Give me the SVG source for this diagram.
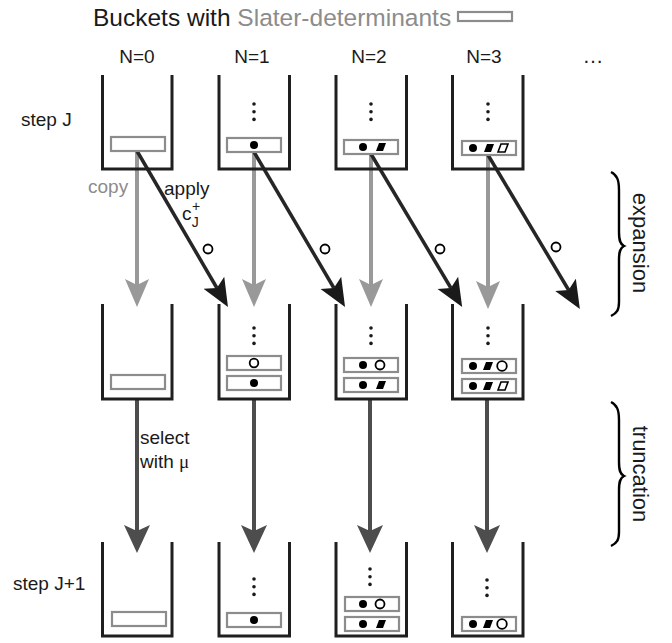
<svg xmlns="http://www.w3.org/2000/svg" width="672" height="643" viewBox="0 0 672 643">
<style>
text{font-family:"Liberation Sans",Arial,sans-serif;fill:#1a1a1a}
.lbl{font-size:19px}
.gt{fill:#8c8c8c}
.bucket{fill:none;stroke:#1f1f1f;stroke-width:3}
.sd{fill:#fff;stroke:#8c8c8c;stroke-width:2.2}
.dot{fill:#1a1a1a}
.fc{fill:#000}
.oc{fill:#fff;stroke:#000;stroke-width:1.8}
.fp{fill:#000}
.op{fill:#fff;stroke:#000;stroke-width:1.6}
.copy{stroke:#999;stroke-width:4;fill:none}
.apply{stroke:#262626;stroke-width:3.5;fill:none}
.sel{stroke:#4d4d4d;stroke-width:4;fill:none}
.brace{fill:none;stroke:#000;stroke-width:2.4}
</style>
<defs>
<marker id="ag" markerUnits="userSpaceOnUse" markerWidth="30" markerHeight="26" refX="6" refY="12" orient="auto"><path d="M0,0 L28,12 L0,24 L6,12 Z" fill="#999"/></marker>
<marker id="ad" markerUnits="userSpaceOnUse" markerWidth="30" markerHeight="26" refX="6" refY="12" orient="auto"><path d="M0,0 L28,12 L0,24 L6,12 Z" fill="#1a1a1a"/></marker>
<marker id="as" markerUnits="userSpaceOnUse" markerWidth="30" markerHeight="28" refX="6" refY="13" orient="auto"><path d="M0,0 L28,13 L0,26 L6,13 Z" fill="#4d4d4d"/></marker>
<g id="vd"><circle cx="0" cy="0" r="1.8" class="dot"/><circle cx="0" cy="7.7" r="1.8" class="dot"/><circle cx="0" cy="15.4" r="1.8" class="dot"/></g>
<path id="fpara" d="M-5,4 L-2,-4 L5,-4 L2,4 Z" class="fp"/>
<path id="opara" d="M-5,4 L-2,-4 L5,-4 L2,4 Z" class="op"/>
</defs>

<g id="title">
<text x="93" y="26" style="font-size:24.5px">Buckets with <tspan class="gt">Slater-determinants</tspan></text>
<rect x="458" y="12" width="54" height="9" class="sd"/>
</g>

<g id="headers" class="lbl">
<text x="137" y="63" text-anchor="middle">N=0</text>
<text x="252" y="63" text-anchor="middle">N=1</text>
<text x="369" y="63" text-anchor="middle">N=2</text>
<text x="484" y="63" text-anchor="middle">N=3</text>
<text x="593" y="63" text-anchor="middle" style="font-size:21px">…</text>
<text x="21" y="126">step J</text>
<text x="13" y="590">step J+1</text>
</g>

<g id="connectors">
<line x1="137" y1="152" x2="137" y2="285" class="copy" marker-end="url(#ag)"/>
<line x1="254" y1="153" x2="254" y2="285" class="copy" marker-end="url(#ag)"/>
<line x1="371" y1="155" x2="371" y2="285" class="copy" marker-end="url(#ag)"/>
<line x1="488" y1="156" x2="488" y2="287" class="copy" marker-end="url(#ag)"/>
<line x1="137" y1="151" x2="216.9" y2="288" class="apply" marker-end="url(#ad)"/>
<line x1="254" y1="152" x2="333.9" y2="288" class="apply" marker-end="url(#ad)"/>
<line x1="371" y1="154" x2="450.9" y2="288" class="apply" marker-end="url(#ad)"/>
<line x1="488" y1="155" x2="568.6" y2="290" class="apply" marker-end="url(#ad)"/>
<line x1="137" y1="399" x2="137" y2="531" class="sel" marker-end="url(#as)"/>
<line x1="254" y1="399" x2="254" y2="531" class="sel" marker-end="url(#as)"/>
<line x1="370" y1="399" x2="370" y2="531" class="sel" marker-end="url(#as)"/>
<line x1="487" y1="399" x2="487" y2="531" class="sel" marker-end="url(#as)"/>
<circle cx="208" cy="249" r="4.5" class="oc"/>
<circle cx="325" cy="249" r="4.5" class="oc"/>
<circle cx="440" cy="249" r="4.5" class="oc"/>
<circle cx="556" cy="247" r="4.5" class="oc"/>
<text x="88" y="193" class="lbl gt">copy</text>
<text x="164" y="195" class="lbl">apply</text>
<text x="182" y="220" class="lbl">c<tspan dx="0.5" dy="-9" style="font-size:14px">+</tspan><tspan dx="-8.5" dy="16" style="font-size:14px">J</tspan></text>
<text x="140" y="444" class="lbl">select</text>
<text x="140" y="468" class="lbl">with <tspan style="font-family:'Liberation Serif',serif">μ</tspan></text>
</g>

<g id="b00"><path d="M102.5,75 V169 H172 V75" class="bucket"/><rect x="111" y="137" width="54" height="14" class="sd"/></g>
<g id="b01"><path d="M219,75 V169 H289.5 V75" class="bucket"/><use href="#vd" x="254" y="104"/><rect x="227" y="138" width="54" height="14" class="sd"/><circle cx="254" cy="145" r="4" class="fc"/></g>
<g id="b02"><path d="M336,75 V169 H406.5 V75" class="bucket"/><use href="#vd" x="371" y="104"/><rect x="344" y="140" width="54" height="14" class="sd"/><circle cx="363" cy="147" r="4" class="fc"/><use href="#fpara" x="381" y="147"/></g>
<g id="b03"><path d="M452.5,75 V169 H523 V75" class="bucket"/><use href="#vd" x="488" y="104"/><rect x="462" y="141" width="54" height="14" class="sd"/><circle cx="473" cy="148" r="4" class="fc"/><use href="#fpara" x="489" y="148"/><use href="#opara" x="503" y="148"/></g>

<g id="b10"><path d="M102.5,304 V399 H172 V304" class="bucket"/><rect x="111" y="375" width="54" height="14" class="sd"/></g>
<g id="b11"><path d="M219,304 V399 H289.5 V304" class="bucket"/><use href="#vd" x="254" y="328"/><rect x="227" y="356" width="54" height="14" class="sd"/><circle cx="254" cy="363" r="4.3" class="oc"/><rect x="227" y="376" width="54" height="14" class="sd"/><circle cx="254" cy="383" r="4" class="fc"/></g>
<g id="b12"><path d="M336,304 V399 H406.5 V304" class="bucket"/><use href="#vd" x="371" y="328"/><rect x="344" y="358" width="54" height="14" class="sd"/><circle cx="363" cy="365" r="4" class="fc"/><circle cx="380" cy="365" r="4.5" class="oc"/><rect x="344" y="378" width="54" height="14" class="sd"/><circle cx="363" cy="385" r="4" class="fc"/><use href="#fpara" x="381" y="385"/></g>
<g id="b13"><path d="M452.5,304 V399 H523 V304" class="bucket"/><use href="#vd" x="488" y="328"/><rect x="462" y="359" width="54" height="14" class="sd"/><circle cx="473" cy="366" r="4" class="fc"/><use href="#fpara" x="488" y="366"/><circle cx="502" cy="366" r="4.8" class="oc"/><rect x="462" y="379" width="54" height="14" class="sd"/><circle cx="473" cy="386" r="4" class="fc"/><use href="#fpara" x="488" y="386"/><use href="#opara" x="503" y="386"/></g>

<g id="b20"><path d="M102.5,542 V636 H172 V542" class="bucket"/><rect x="112" y="612" width="54" height="14" class="sd"/></g>
<g id="b21"><path d="M219,542 V636 H289.5 V542" class="bucket"/><use href="#vd" x="254" y="579"/><rect x="227" y="613" width="54" height="14" class="sd"/><circle cx="254" cy="620" r="4" class="fc"/></g>
<g id="b22"><path d="M336,542 V636 H406.5 V542" class="bucket"/><use href="#vd" x="370" y="569"/><rect x="345" y="597" width="54" height="14" class="sd"/><circle cx="363" cy="604" r="4" class="fc"/><circle cx="380" cy="604" r="4.5" class="oc"/><rect x="345" y="617" width="54" height="14" class="sd"/><circle cx="363" cy="624" r="4" class="fc"/><use href="#fpara" x="381" y="624"/></g>
<g id="b23"><path d="M452.5,542 V636 H523 V542" class="bucket"/><use href="#vd" x="487" y="580"/><rect x="462" y="617" width="54" height="14" class="sd"/><circle cx="473" cy="624" r="4" class="fc"/><use href="#fpara" x="488" y="624"/><circle cx="502" cy="624" r="4.8" class="oc"/></g>

<g id="expansion">
<path d="M611,172 C617,175 619,180 619,190 L619,232 C619,240 620,244 624,246 C620,248 619,252 619,260 L619,302 C619,310 617,313 611,316" class="brace"/>
<text x="633" y="243" text-anchor="middle" transform="rotate(90 633 243)" style="font-size:22px">expansion</text>
</g>
<g id="truncation">
<path d="M611,402 C617,405 619,410 619,420 L619,462 C619,470 620,474 624,476 C620,478 619,482 619,490 L619,532 C619,540 617,543 611,546" class="brace"/>
<text x="633" y="474" text-anchor="middle" transform="rotate(90 633 474)" style="font-size:22px">truncation</text>
</g>
</svg>
